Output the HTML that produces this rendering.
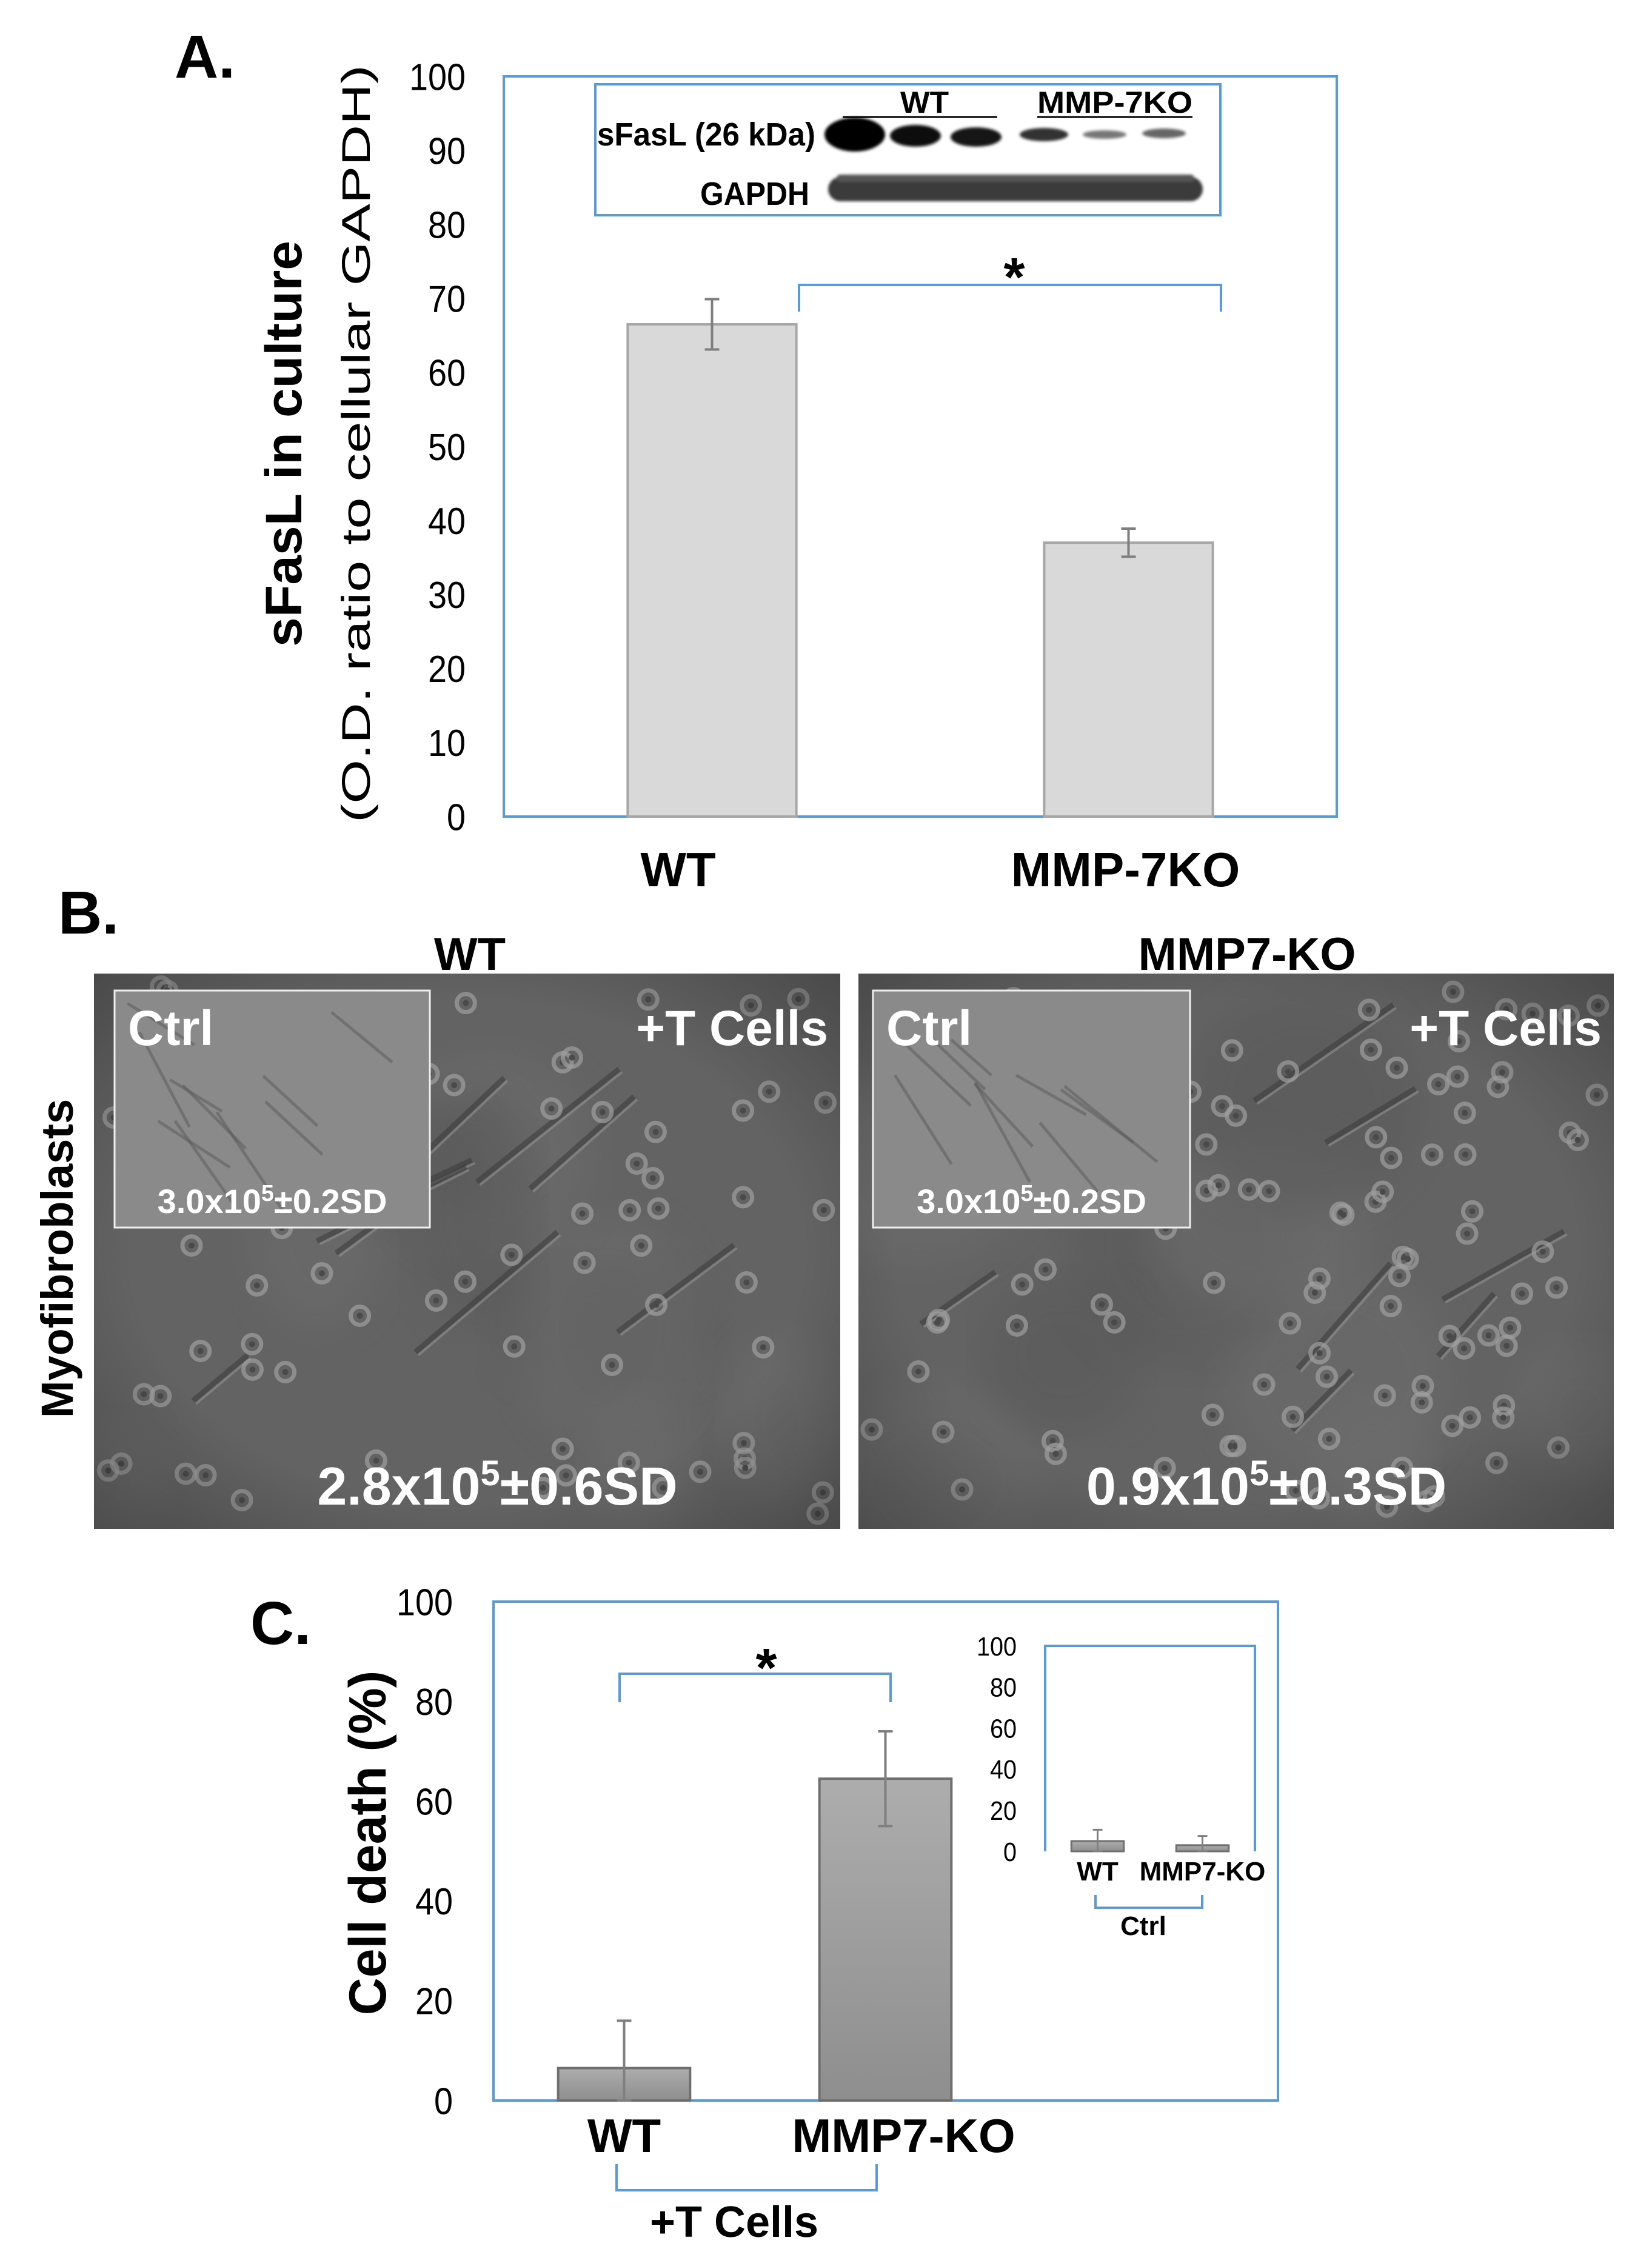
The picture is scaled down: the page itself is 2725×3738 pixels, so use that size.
<!DOCTYPE html>
<html><head><meta charset="utf-8"><style>
html,body{margin:0;padding:0;background:#fff}
svg{display:block}
text{font-family:"Liberation Sans",sans-serif}
</style></head><body>
<svg id="fig" xmlns="http://www.w3.org/2000/svg" width="2725" height="3738" viewBox="0 0 2725 3738">
<defs id="defs">
<linearGradient id="gC" x1="0" y1="0" x2="0" y2="1"><stop offset="0" stop-color="#adadad"/><stop offset="1" stop-color="#8e8e8e"/></linearGradient>
<radialGradient id="vig" cx="0.5" cy="0.5" r="0.75"><stop offset="0.6" stop-color="#000" stop-opacity="0"/><stop offset="1" stop-color="#000" stop-opacity="0.3"/></radialGradient>
<filter id="blur"><feGaussianBlur stdDeviation="30"/></filter>
<filter id="blur2"><feGaussianBlur stdDeviation="2.5"/></filter>
<clipPath id="clipWT"><rect x="155" y="1606" width="1231" height="916"/></clipPath>
<clipPath id="clipKO"><rect x="1416" y="1606" width="1246" height="916"/></clipPath>
</defs>

<!-- Panel A -->
<g id="panelA">
<text x="288" y="128" font-size="100" font-weight="bold">A.</text>
<rect x="831" y="126" width="1374" height="1221" fill="none" stroke="#5b9bd5" stroke-width="4"/>
<text transform="translate(497,732) rotate(-90)" text-anchor="middle" font-size="84" font-weight="bold" textLength="670" lengthAdjust="spacingAndGlyphs">sFasL in culture</text>
<text transform="translate(610,732) rotate(-90)" text-anchor="middle" font-size="66" textLength="1250" lengthAdjust="spacingAndGlyphs">(O.D. ratio to cellular GAPDH)</text>
<g id="aTicks"></g>
<g id="aBars"></g>
<path d="M1318,514 V470 H2014 V514" fill="none" stroke="#5b9bd5" stroke-width="4"/>
<text x="1673" y="488" text-anchor="middle" font-size="90" font-weight="bold">*</text>
<g id="aXlabels"></g>
<g>
<rect x="982" y="139" width="1031" height="216" fill="#fff" stroke="#5b9bd5" stroke-width="4"/>
<text x="985" y="240" font-size="54" font-weight="bold" textLength="360" lengthAdjust="spacingAndGlyphs">sFasL (26 kDa)</text>
<text x="1155" y="338" font-size="54" font-weight="bold" textLength="180" lengthAdjust="spacingAndGlyphs">GAPDH</text>
<text x="1525" y="186" text-anchor="middle" font-size="50" font-weight="bold" textLength="80" lengthAdjust="spacingAndGlyphs">WT</text>
<line x1="1390" y1="193" x2="1645" y2="193" stroke="#000" stroke-width="3"/>
<text x="1711" y="186" font-size="50" font-weight="bold" textLength="256" lengthAdjust="spacingAndGlyphs">MMP-7KO</text>
<line x1="1711" y1="193" x2="1967" y2="193" stroke="#000" stroke-width="3"/>
<g filter="url(#blur2)">
<ellipse cx="1410" cy="222" rx="50" ry="28" fill="#050505"/>
<ellipse cx="1510" cy="224" rx="42" ry="18" fill="#111"/>
<ellipse cx="1610" cy="226" rx="42" ry="16" fill="#151515"/>
<ellipse cx="1722" cy="222" rx="40" ry="11" fill="#333"/>
<ellipse cx="1822" cy="222" rx="36" ry="7" fill="#777"/>
<ellipse cx="1920" cy="220" rx="36" ry="8" fill="#666"/>
</g>
<g filter="url(#blur2)">
<rect x="1366" y="292" width="618" height="40" rx="20" fill="#3a3a3a"/>
<rect x="1380" y="288" width="590" height="12" rx="6" fill="#555"/>
</g>
</g>
</g>

<!-- Panel B -->
<g id="panelB">
<text x="96" y="1540" font-size="100" font-weight="bold">B.</text>
<text x="775" y="1600" text-anchor="middle" font-size="76" font-weight="bold">WT</text>
<text x="2057" y="1600" text-anchor="middle" font-size="76" font-weight="bold">MMP7-KO</text>
<text transform="translate(120,2076) rotate(-90)" text-anchor="middle" font-size="74" font-weight="bold">Myofibroblasts</text>
<g id="imgWT"></g>
<g id="imgKO"></g>
</g>

<!-- Panel C -->
<g id="panelC">
<text x="413" y="2712" font-size="100" font-weight="bold">C.</text>
<rect x="814" y="2642" width="1294" height="823" fill="none" stroke="#5b9bd5" stroke-width="4"/>
<text transform="translate(636,3040) rotate(-90)" text-anchor="middle" font-size="86" font-weight="bold">Cell death (%)</text>
<g id="cTicks"></g>
<g id="cBars"></g>
<path d="M1022,2808 V2761 H1469 V2808" fill="none" stroke="#5b9bd5" stroke-width="4"/>
<text x="1264" y="2782" text-anchor="middle" font-size="90" font-weight="bold">*</text>
<g id="cXlabels"></g>
<path d="M1017,3570 V3613 H1446 V3570" fill="none" stroke="#5b9bd5" stroke-width="4"/>
<text x="1211" y="3690" text-anchor="middle" font-size="72" font-weight="bold">+T Cells</text>
<path d="M1724,3054 V2715 H2070 V3054" fill="none" stroke="#5b9bd5" stroke-width="4"/>
<g id="iTicks"></g>
<g id="iBars"></g>
<g id="iXlabels"></g>
<path d="M1807,3126 V3147 H1983 V3126" fill="none" stroke="#5b9bd5" stroke-width="4"/>
<text x="1886" y="3192" text-anchor="middle" font-size="44" font-weight="bold">Ctrl</text>
</g>
</svg>
<script>
// ---- data ----
const aCategories = ["WT", "MMP-7KO"];
const aValues = [66.5, 37];
const aErrors = [3.4, 1.9];
const aTickLabels = [0,10,20,30,40,50,60,70,80,90,100];

const cCategories = ["WT", "MMP7-KO"];
const cValues = [6.5, 64.5];
const cErrors = [9.5, 9.5];
const cTickLabels = [0,20,40,60,80,100];

const iCategories = ["WT", "MMP7-KO"];
const iValues = [5, 3];
const iErrors = [5.5, 4.5];
const iTickLabels = [0,20,40,60,80,100];

const NS = "http://www.w3.org/2000/svg";
function mk(tag, attrs, parent, txt){
  const e = document.createElementNS(NS, tag);
  for (const k in attrs) e.setAttribute(k, attrs[k]);
  if (txt !== undefined) e.textContent = txt;
  parent.appendChild(e);
  return e;
}
function drawChart(o){
  const y = v => o.y0 - v/o.max*(o.y0 - o.y1);
  const bw = (o.x1 - o.x0)/o.cats.length;
  const tg = document.getElementById(o.ticks);
  o.tickLabels.forEach(t=>{
    const e = mk("text",{x:o.tickX, y:y(t)+o.tickFs*0.36, "text-anchor":"end", "font-size":o.tickFs, textLength:String(t).length*o.tickFs*0.5, lengthAdjust:"spacingAndGlyphs"}, tg, t);
    
    
  });
  const bg = document.getElementById(o.bars);
  const lg = document.getElementById(o.labels);
  o.cats.forEach((c,i)=>{
    const cx = o.x0 + bw*(i+0.5);
    const w = bw*o.frac;
    const r = mk("rect",{x:cx-w/2, y:y(o.vals[i]), width:w, height:y(0)-y(o.vals[i]), fill:o.fill, stroke:o.stroke, "stroke-width":o.sw}, bg);
    
    
    const lo = Math.max(0, o.vals[i]-o.errs[i]);
    const eb = mk("path",{d:`M${cx},${y(lo)} V${y(o.vals[i]+o.errs[i])} M${cx-o.cap},${y(o.vals[i]+o.errs[i])} h${2*o.cap} M${cx-o.cap},${y(lo)} h${2*o.cap}`, stroke:o.errColor, "stroke-width":o.errW, fill:"none"}, bg);
    
    
    const t = mk("text",{x:cx + (o.labelDx? o.labelDx[i]:0), y:o.labelY, "text-anchor":"middle", "font-size":o.labelFs, "font-weight":"bold"}, lg, c);
    
    
  });
}
drawChart({cats:aCategories, vals:aValues, errs:aErrors, tickLabels:aTickLabels, max:100,
  x0:831, x1:2205, y0:1347, y1:126, frac:0.405, fill:"#d9d9d9", stroke:"#a6a6a6", sw:4,
  errColor:"#7f7f7f", errW:4, cap:12, tickX:768, tickFs:62, ticks:"aTicks", bars:"aBars",
  labels:"aXlabels", labelY:1462, labelFs:80, labelDx:[-56,-5]});
drawChart({cats:cCategories, vals:cValues, errs:cErrors, tickLabels:cTickLabels, max:100,
  x0:814, x1:1676, y0:3465, y1:2642, frac:0.505, fill:"url(#gC)", stroke:"#6f6f6f", sw:4,
  errColor:"#7f7f7f", errW:4, cap:12, tickX:747, tickFs:62, ticks:"cTicks", bars:"cBars",
  labels:"cXlabels", labelY:3550, labelFs:78, labelDx:[0,30]});
drawChart({cats:iCategories, vals:iValues, errs:iErrors, tickLabels:iTickLabels, max:100,
  x0:1724, x1:2070, y0:3054, y1:2715, frac:0.5, fill:"url(#gC)", stroke:"#6f6f6f", sw:3,
  errColor:"#7f7f7f", errW:3, cap:8, tickX:1677, tickFs:44, ticks:"iTicks", bars:"iBars",
  labels:"iXlabels", labelY:3102, labelFs:44});

// ---- micrograph textures (decorative) ----
let seed = 7;
function rnd(){ seed = (seed*16807) % 2147483647; return seed/2147483647; }
function micro(gid, clip, x, y, w, h, ix, iy, iw, ih, bottomText, nCells){
  const g = document.getElementById(gid);
  const bg = mk("rect",{x:x,y:y,width:w,height:h,fill:"#636363"}, g);
  
  
  const tex = mk("g",{"clip-path":"url(#"+clip+")"}, g);
  
  
  for(let k=0;k<10;k++){
    mk("ellipse",{cx:x+rnd()*w, cy:y+rnd()*h, rx:80+rnd()*120, ry:80+rnd()*120, fill: rnd()>0.5?"#6e6e6e":"#585858", opacity:0.5, filter:"url(#blur)"}, tex);
  }
  for(let k=0;k<9;k++){
    const sx=x+60+rnd()*(w-300), sy=y+200+rnd()*(h-300), L=100+rnd()*220, a=-0.9+rnd()*0.5;
    mk("line",{x1:sx,y1:sy,x2:sx+L*Math.cos(a),y2:sy+L*Math.sin(a),stroke:"#3e3e3e","stroke-width":9,opacity:0.6}, tex);
    mk("line",{x1:sx+5,y1:sy+5,x2:sx+5+L*Math.cos(a),y2:sy+5+L*Math.sin(a),stroke:"#999","stroke-width":4,opacity:0.5}, tex);
  }
  for(let k=0;k<nCells;k++){
    const cx=x+20+rnd()*(w-40), cy=y+20+rnd()*(h-40);
    mk("circle",{cx:cx,cy:cy,r:15,fill:"none",stroke:"#a0a0a0","stroke-width":7,opacity:0.7}, tex);
    mk("circle",{cx:cx,cy:cy,r:5,fill:"#4a4a4a"}, tex);
  }
  mk("rect",{x:x,y:y,width:w,height:h,fill:"url(#vig)"}, g);
  const ins = mk("g",{}, g);
  
  
  mk("rect",{x:ix,y:iy,width:iw,height:ih,fill:"#8a8a8a"}, ins);
  for(let k=0;k<10;k++){
    const sx=ix+20+rnd()*(iw-180), sy=iy+20+rnd()*(ih-180), L=80+rnd()*120, a=0.5+rnd()*0.6;
    mk("line",{x1:sx,y1:sy,x2:sx+L*Math.cos(a),y2:sy+L*Math.sin(a),stroke:"#5a5a5a","stroke-width":5,opacity:0.5}, ins);
  }
  mk("rect",{x:ix,y:iy,width:iw,height:ih,fill:"none",stroke:"#f0f0f0","stroke-width":3}, ins);
  const t1 = mk("text",{x:ix+22,y:iy+90,"font-size":82,"font-weight":"bold",fill:"#fff"}, g, "Ctrl");
  
  
  const t2 = mk("text",{x:ix+iw/2,y:iy+ih-24,"text-anchor":"middle","font-size":56,"font-weight":"bold",fill:"#fff"}, g);
  
  
  t2.innerHTML = '3.0x10<tspan dy="-20" font-size="38">5</tspan><tspan dy="20">±0.2SD</tspan>';
  const t3 = mk("text",{x:x+w-20,y:iy+90,"text-anchor":"end","font-size":82,"font-weight":"bold",fill:"#fff"}, g, "+T Cells");
  
  
  const t4 = mk("text",{x:x+w/2+50,y:y+h-40,"text-anchor":"middle","font-size":88,"font-weight":"bold",fill:"#fff"}, g);
  
  
  t4.innerHTML = bottomText[0]+'x10<tspan dy="-32" font-size="58">5</tspan><tspan dy="32">'+bottomText[1]+'</tspan>';
}
micro("imgWT", "clipWT", 155, 1606, 1231, 916, 189, 1634, 520, 391, ["2.8","±0.6SD"], 70);
micro("imgKO", "clipKO", 1416, 1606, 1246, 916, 1440, 1634, 523, 391, ["0.9","±0.3SD"], 110);
</script>
</body></html>
